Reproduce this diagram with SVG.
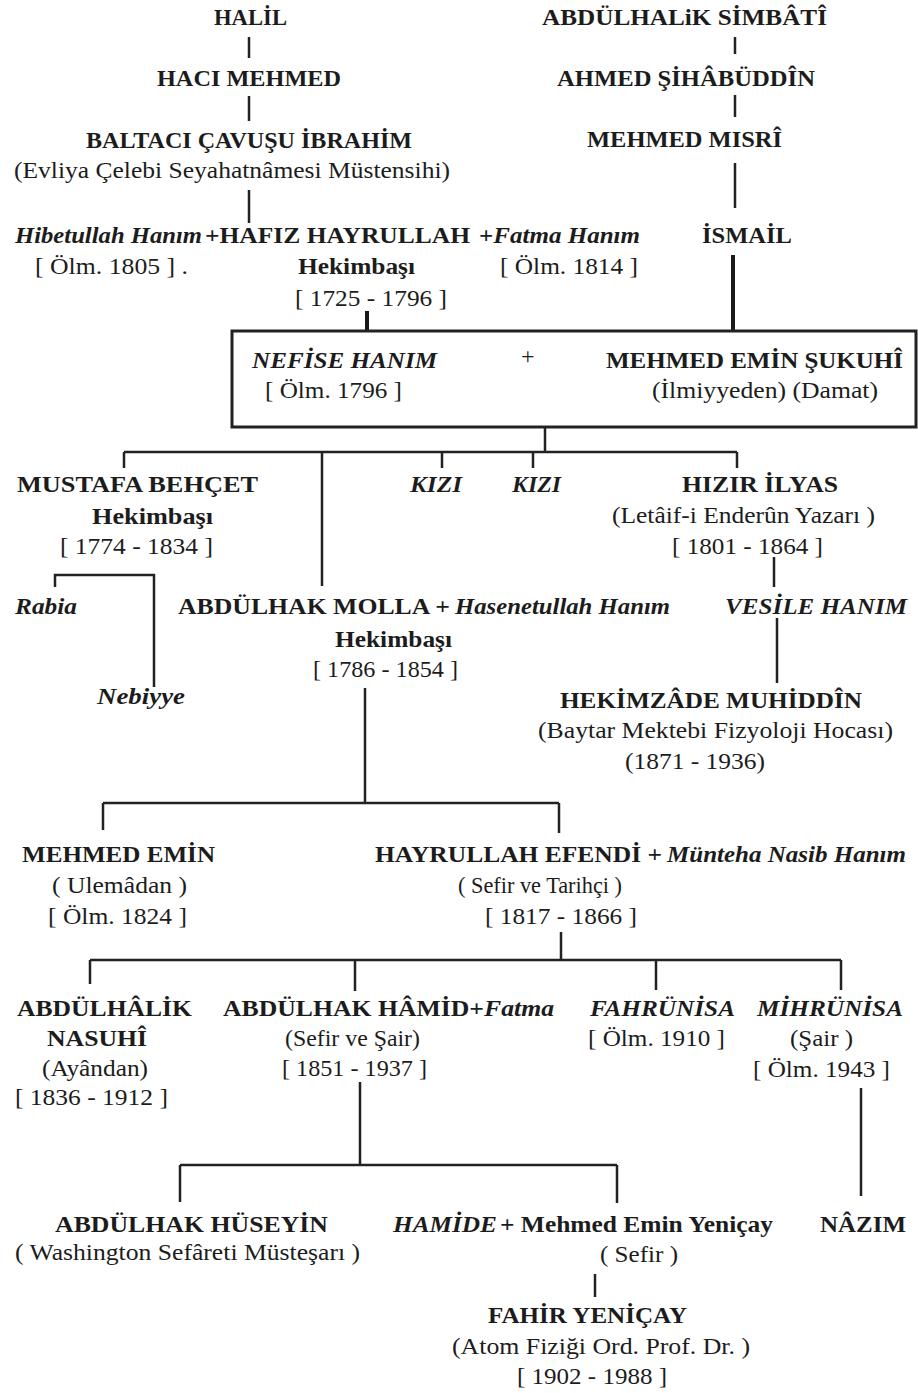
<svg xmlns="http://www.w3.org/2000/svg" width="918" height="1393" viewBox="0 0 918 1393">
<style>
text{font-family:'Liberation Serif',serif;font-size:24px;fill:#1c1c1c}
.b{font-weight:bold}
.bi{font-weight:bold;font-style:italic}
.r{font-weight:normal}
.ln{stroke:#222;stroke-width:2.5;fill:none}
.thick{stroke:#1a1a1a;stroke-width:4;fill:none}
.box{stroke:#222;stroke-width:3;fill:none}
</style>
<rect width="918" height="1393" fill="#fff"/>
<g id="connectors">
<path class="ln" d="M249 37V58M249 96V121M249 190V223"/>
<path class="ln" d="M735 37V54M735 95V117M735 163V208"/>
<path class="thick" d="M367 311V331M733 255V331"/>
<path class="ln" d="M545 427V452M124 452H737M124 452V468M322 452V586M442 452V468M533 452V468M737 452V468"/>
<path class="ln" d="M55 587V575H154V687"/>
<path class="ln" d="M774 557V587M777 618V683"/>
<path class="ln" d="M365 688V803M103 803H559M103 803V830M559 803V833"/>
<path class="ln" d="M561 932V960M90 960H841M90 960V984M355 960V991M656 960V990M841 960V990"/>
<path class="ln" d="M360 1082V1165M180 1165H617M180 1165V1202M617 1165V1203M861 1088V1196"/>
<path class="ln" d="M595 1274V1297"/>
</g>
<g id="n_halil"><text class="b" x="214" y="25" textLength="73" lengthAdjust="spacingAndGlyphs">HALİL</text></g>
<g id="n_haci"><text class="b" x="157" y="86" textLength="184" lengthAdjust="spacingAndGlyphs">HACI MEHMED</text></g>
<g id="n_ibrahim">
<text class="b" x="86" y="148" textLength="326" lengthAdjust="spacingAndGlyphs">BALTACI ÇAVUŞU İBRAHİM</text>
<text class="r" x="14" y="178" textLength="436" lengthAdjust="spacingAndGlyphs">(Evliya Çelebi Seyahatnâmesi Müstensihi)</text>
</g>
<g id="n_hibetullah">
<text class="bi" x="15" y="243" textLength="187" lengthAdjust="spacingAndGlyphs">Hibetullah Hanım</text>
<text class="r" x="35" y="274" textLength="153" lengthAdjust="spacingAndGlyphs">[ Ölm. 1805 ] .</text>
</g>
<g id="n_hafiz">
<text class="b" x="205" y="243" textLength="265" lengthAdjust="spacingAndGlyphs">+HAFIZ HAYRULLAH</text>
<text class="b" x="298" y="274" textLength="117" lengthAdjust="spacingAndGlyphs">Hekimbaşı</text>
<text class="r" x="295" y="306" textLength="152" lengthAdjust="spacingAndGlyphs">[ 1725 - 1796 ]</text>
</g>
<g id="n_fatma">
<text class="b" x="479" y="243" textLength="161" lengthAdjust="spacingAndGlyphs">+<tspan class="bi">Fatma Hanım</tspan></text>
<text class="r" x="500" y="274" textLength="138" lengthAdjust="spacingAndGlyphs">[ Ölm. 1814 ]</text>
</g>
<g id="n_simbati"><text class="b" x="542" y="25" textLength="285" lengthAdjust="spacingAndGlyphs">ABDÜLHALiK SİMBÂTÎ</text></g>
<g id="n_ahmed"><text class="b" x="557" y="86" textLength="258" lengthAdjust="spacingAndGlyphs">AHMED ŞİHÂBÜDDÎN</text></g>
<g id="n_misri"><text class="b" x="587" y="147" textLength="195" lengthAdjust="spacingAndGlyphs">MEHMED MISRÎ</text></g>
<g id="n_ismail"><text class="b" x="702" y="243" textLength="90" lengthAdjust="spacingAndGlyphs">İSMAİL</text></g>
<g id="n_nefise">
<rect class="box" x="232" y="331" width="684" height="96"/>
<text class="bi" x="252" y="368" textLength="185" lengthAdjust="spacingAndGlyphs">NEFİSE HANIM</text>
<text class="r" x="265" y="398" textLength="137" lengthAdjust="spacingAndGlyphs">[ Ölm. 1796 ]</text>
<text class="r" x="521" y="364">+</text>
<text class="b" x="606" y="368" textLength="297" lengthAdjust="spacingAndGlyphs">MEHMED EMİN ŞUKUHÎ</text>
<text class="r" x="652" y="398" textLength="226" lengthAdjust="spacingAndGlyphs">(İlmiyyeden) (Damat)</text>
</g>
<g id="n_mustafa">
<text class="b" x="17" y="492" textLength="241" lengthAdjust="spacingAndGlyphs">MUSTAFA  BEHÇET</text>
<text class="b" x="92" y="524" textLength="121" lengthAdjust="spacingAndGlyphs">Hekimbaşı</text>
<text class="r" x="60" y="554" textLength="153" lengthAdjust="spacingAndGlyphs">[ 1774 - 1834 ]</text>
</g>
<g id="n_kizi1"><text class="bi" x="410" y="492" textLength="52" lengthAdjust="spacingAndGlyphs">KIZI</text></g>
<g id="n_kizi2"><text class="bi" x="512" y="492" textLength="49" lengthAdjust="spacingAndGlyphs">KIZI</text></g>
<g id="n_hizir">
<text class="b" x="682" y="492" textLength="156" lengthAdjust="spacingAndGlyphs">HIZIR İLYAS</text>
<text class="r" x="612" y="523" textLength="263" lengthAdjust="spacingAndGlyphs">(Letâif-i Enderûn Yazarı )</text>
<text class="r" x="672" y="554" textLength="151" lengthAdjust="spacingAndGlyphs">[ 1801 - 1864 ]</text>
</g>
<g id="n_rabia"><text class="bi" x="15" y="614" textLength="62" lengthAdjust="spacingAndGlyphs">Rabia</text></g>
<g id="n_nebiyye"><text class="bi" x="97" y="704" textLength="88" lengthAdjust="spacingAndGlyphs">Nebiyye</text></g>
<g id="n_abdulhak_molla">
<text class="b" x="178" y="614" textLength="272" lengthAdjust="spacingAndGlyphs">ABDÜLHAK MOLLA +</text>
<text class="bi" x="455" y="614" textLength="215" lengthAdjust="spacingAndGlyphs">Hasenetullah Hanım</text>
<text class="b" x="335" y="647" textLength="117" lengthAdjust="spacingAndGlyphs">Hekimbaşı</text>
<text class="r" x="313" y="677" textLength="145" lengthAdjust="spacingAndGlyphs">[ 1786 - 1854 ]</text>
</g>
<g id="n_vesile"><text class="bi" x="725" y="614" textLength="182" lengthAdjust="spacingAndGlyphs">VESİLE HANIM</text></g>
<g id="n_muhiddin">
<text class="b" x="560" y="708" textLength="302" lengthAdjust="spacingAndGlyphs">HEKİMZÂDE MUHİDDÎN</text>
<text class="r" x="538" y="738" textLength="355" lengthAdjust="spacingAndGlyphs">(Baytar Mektebi Fizyoloji Hocası)</text>
<text class="r" x="625" y="769" textLength="140" lengthAdjust="spacingAndGlyphs">(1871 - 1936)</text>
</g>
<g id="n_mehmed_emin">
<text class="b" x="22" y="862" textLength="193" lengthAdjust="spacingAndGlyphs">MEHMED EMİN</text>
<text class="r" x="52" y="893" textLength="135" lengthAdjust="spacingAndGlyphs">( Ulemâdan )</text>
<text class="r" x="48" y="924" textLength="139" lengthAdjust="spacingAndGlyphs">[ Ölm. 1824 ]</text>
</g>
<g id="n_hayrullah">
<text class="b" x="375" y="862" textLength="287" lengthAdjust="spacingAndGlyphs">HAYRULLAH EFENDİ +</text>
<text class="bi" x="667" y="862" textLength="239" lengthAdjust="spacingAndGlyphs">Münteha Nasib Hanım</text>
<text class="r" x="458" y="893" textLength="164" lengthAdjust="spacingAndGlyphs">( Sefir ve Tarihçi )</text>
<text class="r" x="485" y="924" textLength="152" lengthAdjust="spacingAndGlyphs">[ 1817 - 1866 ]</text>
</g>
<g id="n_nasuhi">
<text class="b" x="17" y="1016" textLength="175" lengthAdjust="spacingAndGlyphs">ABDÜLHÂLİK</text>
<text class="b" x="47" y="1046" textLength="100" lengthAdjust="spacingAndGlyphs">NASUHÎ</text>
<text class="r" x="42" y="1076" textLength="106" lengthAdjust="spacingAndGlyphs">(Ayândan)</text>
<text class="r" x="15" y="1105" textLength="153" lengthAdjust="spacingAndGlyphs">[ 1836 - 1912 ]</text>
</g>
<g id="n_hamid">
<text class="b" x="223" y="1016" textLength="331" lengthAdjust="spacingAndGlyphs">ABDÜLHAK HÂMİD+<tspan class="bi">Fatma</tspan></text>
<text class="r" x="285" y="1046" textLength="135" lengthAdjust="spacingAndGlyphs">(Sefir ve Şair)</text>
<text class="r" x="282" y="1076" textLength="145" lengthAdjust="spacingAndGlyphs">[ 1851 - 1937 ]</text>
</g>
<g id="n_fahrunisa">
<text class="bi" x="590" y="1016" textLength="145" lengthAdjust="spacingAndGlyphs">FAHRÜNİSA</text>
<text class="r" x="588" y="1046" textLength="137" lengthAdjust="spacingAndGlyphs">[ Ölm. 1910 ]</text>
</g>
<g id="n_mihrunisa">
<text class="bi" x="757" y="1016" textLength="146" lengthAdjust="spacingAndGlyphs">MİHRÜNİSA</text>
<text class="r" x="790" y="1046" textLength="63" lengthAdjust="spacingAndGlyphs">(Şair )</text>
<text class="r" x="753" y="1077" textLength="137" lengthAdjust="spacingAndGlyphs">[ Ölm. 1943 ]</text>
</g>
<g id="n_huseyin">
<text class="b" x="55" y="1232" textLength="273" lengthAdjust="spacingAndGlyphs">ABDÜLHAK HÜSEYİN</text>
<text class="r" x="15" y="1260" textLength="345" lengthAdjust="spacingAndGlyphs">( Washington Sefâreti Müsteşarı )</text>
</g>
<g id="n_hamide">
<text class="bi" x="393" y="1232" textLength="104" lengthAdjust="spacingAndGlyphs">HAMİDE</text>
<text class="b" x="500" y="1232" textLength="273" lengthAdjust="spacingAndGlyphs">+ Mehmed Emin Yeniçay</text>
<text class="r" x="600" y="1262" textLength="78" lengthAdjust="spacingAndGlyphs">( Sefir )</text>
</g>
<g id="n_nazim"><text class="b" x="820" y="1232" textLength="86" lengthAdjust="spacingAndGlyphs">NÂZIM</text></g>
<g id="n_fahir">
<text class="b" x="488" y="1323" textLength="199" lengthAdjust="spacingAndGlyphs">FAHİR YENİÇAY</text>
<text class="r" x="452" y="1354" textLength="298" lengthAdjust="spacingAndGlyphs">(Atom Fiziği Ord. Prof. Dr. )</text>
<text class="r" x="517" y="1384" textLength="150" lengthAdjust="spacingAndGlyphs">[ 1902 - 1988 ]</text>
</g>
</svg>
